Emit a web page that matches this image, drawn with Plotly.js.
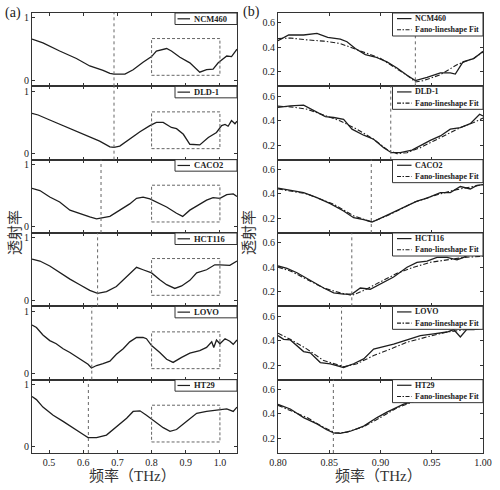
<!DOCTYPE html>
<html><head><meta charset="utf-8">
<script src="https://cdn.plot.ly/plotly-3.0.1.min.js"></script>
<style>html,body{margin:0;padding:0;background:#fff}#chart{width:500px;height:490px}</style>
</head><body><div id="chart"></div>
<script>
// ---------- data ----------
const samples = ['NCM460', 'DLD-1', 'CACO2', 'HCT116', 'LOVO', 'HT29'];
const fitLabel = 'Fano-lineshape Fit';

// (a) full transmission spectra, 0.45-1.05 THz
const ncm460_a_x = [0.45,0.482,0.531,0.580,0.619,0.658,0.678,0.690,0.722,0.746,0.775,0.800,0.814,0.844,0.858,0.883,0.912,0.941,0.961,0.980,0.995,1.020,1.034,1.05];
const ncm460_a_y = [0.66,0.60,0.47,0.35,0.23,0.16,0.11,0.10,0.10,0.17,0.29,0.38,0.47,0.51,0.47,0.37,0.28,0.13,0.17,0.18,0.28,0.39,0.38,0.50];
const dld1_a_x = [0.45,0.468,0.502,0.551,0.600,0.648,0.678,0.690,0.707,0.736,0.766,0.795,0.814,0.834,0.858,0.873,0.893,0.912,0.941,0.966,0.990,1.005,1.015,1.024,1.034,1.044,1.05];
const dld1_a_y = [0.645,0.62,0.54,0.43,0.32,0.20,0.11,0.10,0.12,0.24,0.35,0.45,0.50,0.50,0.42,0.40,0.31,0.15,0.14,0.26,0.34,0.45,0.47,0.44,0.53,0.48,0.52];
const caco2_a_x = [0.45,0.473,0.502,0.531,0.561,0.590,0.619,0.639,0.658,0.678,0.707,0.736,0.756,0.775,0.795,0.814,0.844,0.873,0.891,0.912,0.941,0.961,0.980,1.000,1.020,1.039,1.05];
const caco2_a_y = [0.62,0.585,0.48,0.40,0.27,0.21,0.16,0.13,0.15,0.17,0.27,0.37,0.46,0.48,0.45,0.40,0.32,0.22,0.17,0.27,0.37,0.43,0.47,0.46,0.52,0.53,0.49];
const hct116_a_x = [0.45,0.473,0.502,0.531,0.561,0.590,0.619,0.642,0.668,0.697,0.727,0.756,0.775,0.800,0.824,0.844,0.868,0.888,0.912,0.932,0.961,0.985,1.000,1.029,1.05];
const hct116_a_y = [0.66,0.63,0.55,0.44,0.34,0.25,0.16,0.11,0.14,0.22,0.38,0.53,0.49,0.44,0.33,0.25,0.19,0.23,0.32,0.44,0.49,0.57,0.57,0.56,0.63];
const lovo_a_x = [0.45,0.463,0.482,0.502,0.521,0.541,0.561,0.580,0.600,0.614,0.624,0.639,0.658,0.678,0.697,0.717,0.736,0.756,0.775,0.785,0.800,0.824,0.844,0.863,0.888,0.912,0.941,0.961,0.976,0.982,0.990,1.000,1.015,1.029,1.039,1.05];
const lovo_a_y = [0.78,0.74,0.62,0.53,0.48,0.40,0.34,0.27,0.20,0.15,0.09,0.13,0.16,0.20,0.31,0.40,0.51,0.58,0.58,0.56,0.45,0.34,0.23,0.18,0.26,0.33,0.37,0.42,0.51,0.42,0.54,0.48,0.56,0.52,0.47,0.54];
const ht29_a_x = [0.45,0.463,0.482,0.512,0.541,0.570,0.600,0.614,0.639,0.668,0.697,0.727,0.746,0.766,0.785,0.805,0.834,0.854,0.873,0.902,0.932,0.961,0.990,1.020,1.039,1.05];
const ht29_a_y = [0.81,0.76,0.64,0.51,0.41,0.30,0.20,0.15,0.15,0.19,0.32,0.46,0.57,0.58,0.51,0.43,0.31,0.25,0.28,0.41,0.54,0.57,0.59,0.61,0.57,0.64];

// (b) 0.80-1.00 THz with Fano-lineshape fits
const ncm460_b_x = [0.800,0.8104,0.825,0.838,0.8485,0.8608,0.8673,0.8754,0.8852,0.895,0.9063,0.9161,0.9259,0.934,0.9454,0.9584,0.9681,0.973,0.9805,0.9909,1.0];
const ncm460_b_y = [0.453,0.50,0.50,0.513,0.48,0.467,0.445,0.39,0.34,0.32,0.28,0.23,0.17,0.127,0.154,0.19,0.19,0.18,0.28,0.306,0.366];
const ncm460_fit_x = [0.800,0.812,0.8283,0.8446,0.8608,0.8738,0.8868,0.8998,0.9128,0.9259,0.934,0.9421,0.9584,0.9746,0.9909,1.0];
const ncm460_fit_y = [0.47,0.475,0.46,0.45,0.43,0.39,0.35,0.31,0.24,0.17,0.116,0.127,0.175,0.257,0.31,0.36];
const dld1_b_x = [0.800,0.812,0.825,0.838,0.8462,0.8543,0.864,0.8722,0.8836,0.8933,0.9031,0.9106,0.9193,0.9307,0.9405,0.9486,0.9584,0.9681,0.9779,0.9876,0.9967,1.0];
const dld1_b_y = [0.507,0.52,0.526,0.466,0.433,0.425,0.41,0.33,0.28,0.247,0.178,0.137,0.137,0.159,0.205,0.238,0.274,0.33,0.342,0.375,0.452,0.438];
const dld1_fit_x = [0.800,0.812,0.8283,0.8446,0.8608,0.8771,0.8933,0.9063,0.9161,0.9259,0.9389,0.9519,0.9649,0.9779,0.9909,1.0];
const dld1_fit_y = [0.518,0.512,0.493,0.447,0.397,0.329,0.247,0.164,0.129,0.137,0.178,0.233,0.288,0.342,0.384,0.42];
const caco2_b_x = [0.800,0.812,0.825,0.838,0.851,0.864,0.8738,0.8836,0.8917,0.8998,0.9096,0.9226,0.9356,0.9454,0.9584,0.9681,0.9779,0.9876,0.9941,1.0];
const caco2_b_y = [0.448,0.43,0.41,0.37,0.32,0.26,0.205,0.19,0.17,0.20,0.24,0.29,0.34,0.365,0.41,0.41,0.46,0.44,0.47,0.476];
const caco2_fit_x = [0.800,0.8283,0.8543,0.8738,0.8917,0.9096,0.9324,0.9519,0.9714,1.0];
const caco2_fit_y = [0.44,0.40,0.316,0.22,0.17,0.233,0.33,0.385,0.43,0.476];
const hct116_b_x = [0.800,0.8088,0.8185,0.8315,0.8446,0.8543,0.864,0.8722,0.8803,0.89,0.8998,0.9128,0.9259,0.9356,0.9454,0.9551,0.9649,0.9746,0.9811,0.99,1.0];
const hct116_b_y = [0.41,0.39,0.355,0.29,0.23,0.19,0.18,0.18,0.23,0.22,0.265,0.32,0.40,0.44,0.45,0.48,0.48,0.46,0.48,0.52,0.55];
const hct116_fit_x = [0.800,0.812,0.8283,0.8446,0.8608,0.8722,0.8836,0.8998,0.9161,0.9324,0.9486,0.9649,0.9811,1.0];
const hct116_fit_y = [0.40,0.37,0.30,0.23,0.19,0.17,0.21,0.28,0.35,0.40,0.44,0.46,0.48,0.49];
const lovo_b_x = [0.800,0.8055,0.812,0.8185,0.825,0.8315,0.8413,0.851,0.8608,0.864,0.8738,0.8836,0.8933,0.9031,0.9128,0.9259,0.9389,0.9519,0.9649,0.9714,0.9779,0.984,0.9909,1.0];
const lovo_b_y = [0.44,0.41,0.405,0.36,0.31,0.30,0.22,0.21,0.186,0.18,0.21,0.25,0.33,0.35,0.37,0.405,0.44,0.455,0.47,0.49,0.43,0.49,0.49,0.50];
const lovo_fit_x = [0.800,0.812,0.8283,0.8446,0.8608,0.864,0.877,0.8933,0.9096,0.9259,0.9454,0.9649,0.9844,1.0];
const lovo_fit_y = [0.46,0.41,0.33,0.236,0.195,0.186,0.21,0.277,0.33,0.386,0.43,0.47,0.49,0.50];
const ht29_b_x = [0.800,0.812,0.825,0.838,0.8475,0.8543,0.8608,0.8706,0.8836,0.8966,0.9063,0.9161,0.9226,0.94,0.96,0.98,1.0];
const ht29_b_y = [0.477,0.44,0.37,0.318,0.27,0.244,0.24,0.258,0.30,0.37,0.414,0.45,0.48,0.52,0.55,0.57,0.60];
const ht29_fit_x = [0.800,0.812,0.8283,0.8446,0.8559,0.8673,0.8836,0.9,0.9161,0.9356,0.9584,1.0];
const ht29_fit_y = [0.47,0.43,0.37,0.29,0.244,0.25,0.296,0.37,0.45,0.51,0.55,0.58];

// resonance frequencies marked with dotted lines
const dipA = [0.69, 0.69, 0.652, 0.642, 0.625, 0.615];
const dipB = [0.934, 0.91, 0.891, 0.872, 0.862, 0.854];

// ticks
const xTicksA = [0.5, 0.6, 0.7, 0.8, 0.9, 1.0];
const xTickTextA = ['0.5', '0.6', '0.7', '0.8', '0.9', '1.0'];
const xTicksB = [0.80, 0.85, 0.90, 0.95, 1.00];
const xTickTextB = ['0.80', '0.85', '0.90', '0.95', '1.00'];
const yTicksA = [0, 1];
const yTickTextA = ['0', '1'];
const yTicksB = [0.2, 0.4, 0.6];
const yTickTextB = ['0.2', '0.4', '0.6'];

// ---------- build ----------
const seriesA = [[ncm460_a_x, ncm460_a_y],[dld1_a_x, dld1_a_y],[caco2_a_x, caco2_a_y],[hct116_a_x, hct116_a_y],[lovo_a_x, lovo_a_y],[ht29_a_x, ht29_a_y]];
const seriesB = [[ncm460_b_x, ncm460_b_y, ncm460_fit_x, ncm460_fit_y],[dld1_b_x, dld1_b_y, dld1_fit_x, dld1_fit_y],[caco2_b_x, caco2_b_y, caco2_fit_x, caco2_fit_y],[hct116_b_x, hct116_b_y, hct116_fit_x, hct116_fit_y],[lovo_b_x, lovo_b_y, lovo_fit_x, lovo_fit_y],[ht29_b_x, ht29_b_y, ht29_fit_x, ht29_fit_y]];

const W = 500, H = 490, L = 32, R = 17, T = 13, B = 37;
const PW = W - L - R, PH = H - T - B;
const fx = px => (px - L) / PW;
const fy = py => (H - B - py) / PH;
const panelH = PH / 6;
const leftDom = [0, 205 / PW], rightDom = [246 / PW, 1];

const FONT = 'Liberation Serif, "Noto Sans CJK SC", serif';
const INK = '#1e1e1e';
const FIT_DASH = '5px,2px,1.5px,2px';

const traces = [], shapes = [], annotations = [];
const layout = {
  width: W, height: H, autosize: false,
  margin: {l: L, r: R, t: T, b: B, pad: 0},
  showlegend: false,
  paper_bgcolor: '#fff', plot_bgcolor: '#fff',
  font: {family: FONT, color: '#222', size: 10}
};
const axBase = () => ({
  showline: true, linecolor: '#333', linewidth: 1, mirror: 'ticks',
  ticks: 'inside', ticklen: 3, tickwidth: 1, tickcolor: '#333',
  showgrid: false, zeroline: false, fixedrange: true,
  tickfont: {family: FONT, size: 10, color: '#222'}
});

for (let i = 0; i < 6; i++) {
  const dom = [1 - (i + 1) / 6, 1 - i / 6];
  const na = 2 * i + 1, nb = 2 * i + 2;
  const xa = na === 1 ? 'x' : 'x' + na, ya = na === 1 ? 'y' : 'y' + na;
  const xb = 'x' + nb, yb = 'y' + nb;
  const last = i === 5;

  layout['xaxis' + (na === 1 ? '' : na)] = Object.assign(axBase(), {
    domain: leftDom, anchor: ya, range: [0.45, 1.05],
    tickvals: xTicksA, ticktext: xTickTextA, showticklabels: last
  });
  layout['yaxis' + (na === 1 ? '' : na)] = Object.assign(axBase(), {
    domain: dom, anchor: xa, range: [-0.097, 1.08],
    tickvals: yTicksA, ticktext: yTickTextA
  });
  layout['xaxis' + nb] = Object.assign(axBase(), {
    domain: rightDom, anchor: yb, range: [0.8, 1.0],
    tickvals: xTicksB, ticktext: xTickTextB, showticklabels: last
  });
  layout['yaxis' + nb] = Object.assign(axBase(), {
    domain: dom, anchor: xb, range: [0.08, 0.68],
    tickvals: yTicksB, ticktext: yTickTextB
  });

  const [ax, ay] = seriesA[i];
  traces.push({type: 'scatter', mode: 'lines', x: ax, y: ay, xaxis: xa, yaxis: ya,
    name: samples[i], line: {color: INK, width: 1.3}});
  const [bx, by, fxs, fys] = seriesB[i];
  traces.push({type: 'scatter', mode: 'lines', x: bx, y: by, xaxis: xb, yaxis: yb,
    name: samples[i], line: {color: INK, width: 1.3}});
  traces.push({type: 'scatter', mode: 'lines', x: fxs, y: fys, xaxis: xb, yaxis: yb,
    name: fitLabel, line: {color: INK, width: 1.1, dash: FIT_DASH}});

  // dotted resonance markers
  shapes.push({type: 'line', xref: xa, yref: ya + ' domain', x0: dipA[i], x1: dipA[i], y0: 0, y1: 1,
    line: {color: '#666', width: 1, dash: 'dot'}});
  shapes.push({type: 'line', xref: xb, yref: yb + ' domain', x0: dipB[i], x1: dipB[i], y0: 0, y1: 1,
    line: {color: '#666', width: 1, dash: 'dot'}});
  // dashed zoom-region box in (a)
  shapes.push({type: 'rect', xref: xa, yref: ya, x0: 0.8, x1: 1.0, y0: 0.08, y1: 0.67,
    line: {color: '#666', width: 1, dash: '3px,2px'}});

  const top = T + i * panelH;
  // legend (a)
  shapes.push({type: 'rect', xref: 'paper', yref: 'paper', x0: fx(175), x1: fx(237), y0: fy(top + 11.5), y1: fy(top),
    fillcolor: '#fff', line: {color: '#333', width: 1}});
  shapes.push({type: 'line', xref: 'paper', yref: 'paper', x0: fx(177.5), x1: fx(190), y0: fy(top + 5.8), y1: fy(top + 5.8),
    line: {color: INK, width: 1.2}});
  annotations.push({xref: 'paper', yref: 'paper', x: fx(192.5), y: fy(top + 5.8), xanchor: 'left', yanchor: 'middle',
    text: samples[i], showarrow: false, borderpad: 0, font: {family: FONT, size: 8.5, color: '#222', weight: 'bold'}});
  // legend (b)
  shapes.push({type: 'rect', xref: 'paper', yref: 'paper', x0: fx(392.5), x1: fx(483), y0: fy(top + 23), y1: fy(top),
    fillcolor: '#fff', line: {color: '#333', width: 1}});
  shapes.push({type: 'line', xref: 'paper', yref: 'paper', x0: fx(397), x1: fx(411.5), y0: fy(top + 5.6), y1: fy(top + 5.6),
    line: {color: INK, width: 1.2}});
  shapes.push({type: 'line', xref: 'paper', yref: 'paper', x0: fx(397), x1: fx(411.5), y0: fy(top + 16.8), y1: fy(top + 16.8),
    line: {color: INK, width: 1.1, dash: '4px,1.5px,1.5px,1.5px'}});
  annotations.push({xref: 'paper', yref: 'paper', x: fx(414), y: fy(top + 5.6), xanchor: 'left', yanchor: 'middle',
    text: samples[i], showarrow: false, borderpad: 0, font: {family: FONT, size: 8, color: '#222', weight: 'bold'}});
  annotations.push({xref: 'paper', yref: 'paper', x: fx(414), y: fy(top + 16.8), xanchor: 'left', yanchor: 'middle',
    text: fitLabel, showarrow: false, borderpad: 0, font: {family: FONT, size: 8, color: '#222', weight: 'bold'}});
}

// panel labels and titles
const titleFont = {family: FONT, size: 15, color: '#333'};
annotations.push({xref: 'paper', yref: 'paper', x: fx(13), y: fy(13), text: '(a)', showarrow: false,
  xanchor: 'center', yanchor: 'middle', font: {family: FONT, size: 14, color: '#222'}});
annotations.push({xref: 'paper', yref: 'paper', x: fx(251), y: fy(12), text: '(b)', showarrow: false,
  xanchor: 'center', yanchor: 'middle', font: {family: FONT, size: 14, color: '#222'}});
annotations.push({xref: 'paper', yref: 'paper', x: fx(15), y: fy(233), text: '透射率', textangle: -90, showarrow: false,
  xanchor: 'center', yanchor: 'middle', font: titleFont});
annotations.push({xref: 'paper', yref: 'paper', x: fx(249), y: fy(233), text: '透射率', textangle: -90, showarrow: false,
  xanchor: 'center', yanchor: 'middle', font: titleFont});
annotations.push({xref: 'paper', yref: 'paper', x: fx(132), y: fy(476), text: '频率（THz）', showarrow: false,
  xanchor: 'center', yanchor: 'middle', font: titleFont});
annotations.push({xref: 'paper', yref: 'paper', x: fx(378), y: fy(476), text: '频率（THz）', showarrow: false,
  xanchor: 'center', yanchor: 'middle', font: titleFont});

layout.shapes = shapes;
layout.annotations = annotations;

Plotly.newPlot('chart', traces, layout, {staticPlot: true, displayModeBar: false});
</script>
</body></html>
